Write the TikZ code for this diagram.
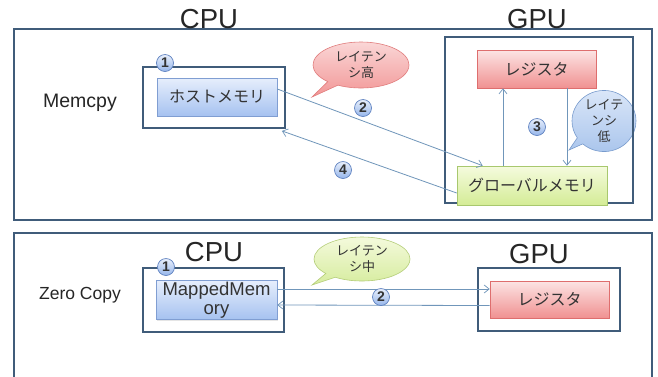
\documentclass[tikz,border=0pt]{standalone}
\usepackage{fontspec}
\setmainfont{Liberation Sans}
\newfontfamily\jp{Noto Sans CJK JP}
\usetikzlibrary{arrows.meta,shapes.callouts,shapes.geometric,shadows}
\definecolor{framec}{RGB}{64,92,122}
\definecolor{arrc}{RGB}{112,150,186}
\definecolor{bluedraw}{RGB}{128,158,210}
\definecolor{bluetop}{RGB}{230,238,252}
\definecolor{bluebot}{RGB}{166,194,240}
\definecolor{reddraw}{RGB}{222,110,110}
\definecolor{redtop}{RGB}{252,228,228}
\definecolor{redbot}{RGB}{240,145,145}
\definecolor{greendraw}{RGB}{168,200,110}
\definecolor{greentop}{RGB}{245,251,222}
\definecolor{greenbot}{RGB}{212,236,150}
\definecolor{numdraw}{RGB}{95,130,192}
\definecolor{numtop}{RGB}{232,239,252}
\definecolor{numbot}{RGB}{150,182,234}
\definecolor{bAdraw}{RGB}{225,125,125}
\definecolor{bAtop}{RGB}{250,214,214}
\definecolor{bAbot}{RGB}{242,150,150}
\definecolor{bBdraw}{RGB}{120,155,205}
\definecolor{bBtop}{RGB}{218,230,248}
\definecolor{bBbot}{RGB}{168,196,236}
\definecolor{bCdraw}{RGB}{180,205,120}
\definecolor{bCtop}{RGB}{244,250,220}
\definecolor{bCbot}{RGB}{214,236,158}
\tikzset{
  frame/.style={draw=framec, line width=1.8pt},
  framebox/.style={frame, rectangle, inner sep=0pt},
  memnode/.style={rectangle, draw=#1, line width=0.6pt, inner sep=0pt, text=black!80, font=\jp\fontsize{16}{18}\selectfont, align=center, drop shadow={opacity=0.2, shadow xshift=1.2pt, shadow yshift=-1.2pt}},
  bluenode/.style={memnode=bluedraw, top color=bluetop, bottom color=bluebot},
  rednode/.style={memnode=reddraw, top color=redtop, bottom color=redbot},
  greennode/.style={memnode=greendraw, top color=greentop, bottom color=greenbot},
  numc/.style={circle, draw=numdraw, line width=0.7pt, inner sep=0pt, minimum size=17pt, top color=numtop, bottom color=numbot, font=\fontsize{14}{14}\selectfont\bfseries, text=black!80},
  bubble/.style={ellipse callout, line width=0.6pt, inner sep=0pt, align=center, font=\jp\fontsize{13}{16}\selectfont, text=black!80},
  arr/.style={draw=arrc, line width=0.8pt, -{Straight Barb[length=5pt,width=8pt,line width=0.7pt]}},
  biglabel/.style={font=\fontsize{27.5}{27.5}\selectfont, text=black!85},
  sidelabel/.style={font=\fontsize{19.5}{19.5}\selectfont, text=black!85},
}
\begin{document}
\begin{tikzpicture}[x=1pt,y=-1pt]
\useasboundingbox (0,0) rectangle (658,376);
\fill[white] (0,0) rectangle (658,376);

% ===== Memcpy panel =====
\draw[frame] (14,29) rectangle (652,220);
\node[biglabel] (cpuA) at (209,19) {CPU};
\node[biglabel] (gpuA) at (537,19) {GPU};
\node[sidelabel] (memcpy) at (80,103) {Memcpy};

\node[framebox, minimum width=142pt, minimum height=61pt] (cpu1) at (214,97.5) {};
\node[bluenode, minimum width=120pt, minimum height=38pt] (host) at (217,97) {ホストメモリ};

\node[bubble, draw=bBdraw, top color=bBtop, bottom color=bBbot, minimum width=64pt, minimum height=58pt, callout absolute pointer={(569,150)}] (bubB) at (604,121) {レイテ\\ンシ\\低};

\node[framebox, minimum width=188pt, minimum height=166pt] (gpu1) at (539,120) {};
\node[rednode, minimum width=119pt, minimum height=38pt] (reg) at (536.5,69) {レジスタ};
\node[greennode, minimum width=150pt, minimum height=39pt] (glob) at (532,185.5) {グローバルメモリ};

\draw[arr] ([yshift=8pt]host.east) -- ([xshift=26pt]glob.north west);
\draw[arr] ([yshift=-7.5pt]glob.west) -- ([xshift=-4pt,yshift=-2pt]cpu1.south east);
\draw[arr] ([xshift=-29pt]glob.north) -- ([xshift=-29pt]glob.north |- reg.south);
\draw[arr] ([xshift=35pt]glob.north |- reg.south) -- ([xshift=35pt]glob.north);

\node[bubble, draw=bAdraw, top color=bAtop, bottom color=bAbot, minimum width=96pt, minimum height=46pt, callout absolute pointer={(312,97)}] (bubA) at (361,65) {レイテン\\シ高};

\node[numc] (n1a) at (165,63) {1};
\node[numc] (n2a) at (363,108) {2};
\node[numc] (n3a) at (537,127) {3};
\node[numc] (n4a) at (343,170) {4};

% ===== Zero Copy panel =====
\draw[frame] (14,380) -- (14,233) -- (652,233) -- (652,380);
\node[biglabel] (cpuB) at (214,252) {CPU};
\node[biglabel] (gpuB) at (539,254) {GPU};
\node[sidelabel, font=\fontsize{17.5}{17.5}\selectfont] (zc) at (80,295) {Zero Copy};

\node[framebox, minimum width=141pt, minimum height=64pt] (cpu2) at (213.5,300) {};
\node[bluenode, minimum width=121pt, minimum height=39pt, font=\fontsize{18.5}{19}\selectfont] (mapped) at (216.5,300) {MappedMem\\ory};

\node[framebox, minimum width=142pt, minimum height=63pt] (gpu2) at (549,299.5) {};
\node[rednode, minimum width=119pt, minimum height=37pt] (reg2) at (549.5,299.5) {レジスタ};

\draw[arr] ([yshift=11pt]mapped.east) -- ([yshift=10.5pt]reg2.west);
\draw[arr] ([yshift=-6pt]reg2.west) -- ([yshift=-5pt]mapped.east);

\node[bubble, draw=bCdraw, top color=bCtop, bottom color=bCbot, minimum width=96pt, minimum height=44pt, callout absolute pointer={(312,285)}] (bubC) at (362,259) {レイテン\\シ中};

\node[numc] (n1b) at (166,267) {1};
\node[numc] (n2b) at (381,297) {2};
\end{tikzpicture}
\end{document}
